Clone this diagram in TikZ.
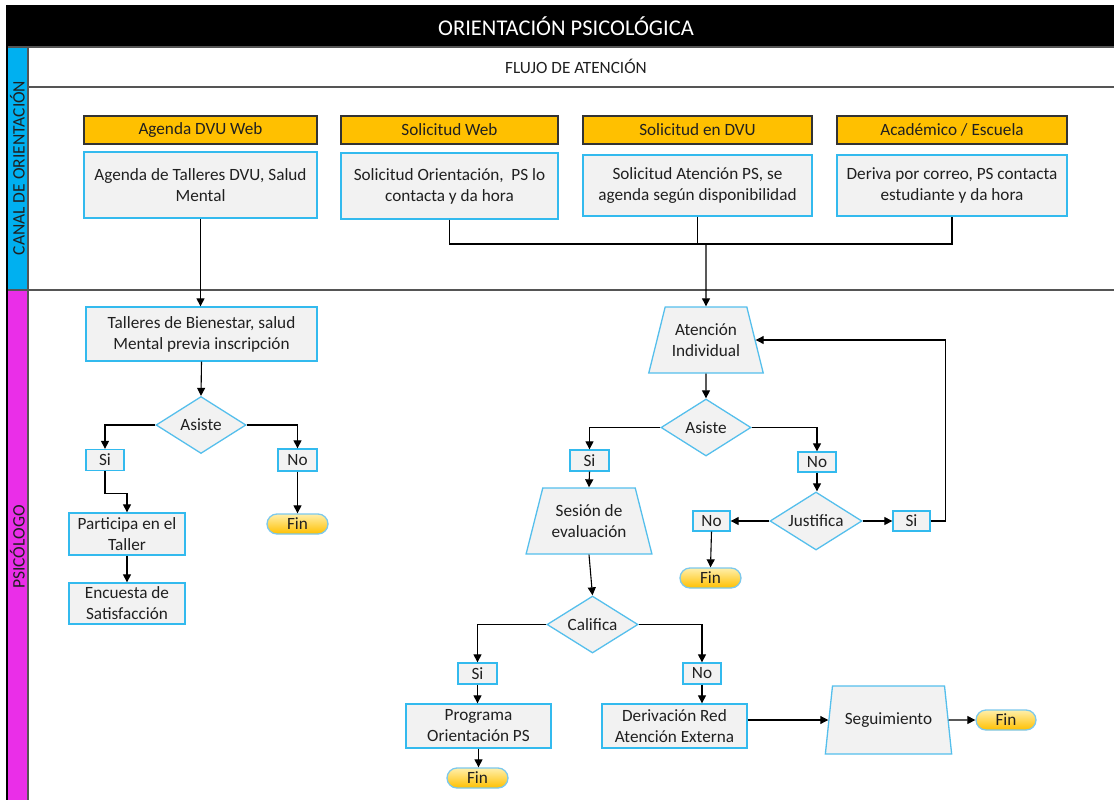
\documentclass[tikz,border=0pt]{standalone}
\usepackage{fontspec}
\setmainfont{Carlito}
\usetikzlibrary{shapes.geometric,arrows.meta,calc}
\definecolor{ybox}{HTML}{FFC000}
\definecolor{gfill}{HTML}{F2F2F2}
\definecolor{bline}{HTML}{33BAEE}
\definecolor{dline}{HTML}{55BFEC}
\definecolor{lblue}{HTML}{00B0F0}
\definecolor{lmag}{HTML}{EA2EE8}
\definecolor{sepg}{HTML}{555555}
\definecolor{txt}{HTML}{202020}
\definecolor{fintop}{HTML}{FFEFAA}
\definecolor{finbot}{HTML}{FFC000}
\definecolor{finb}{HTML}{7CC8EC}
\tikzset{
  hdr/.style={draw=black!80, line width=1.3pt, fill=ybox, inner sep=0pt, text=txt},
  gbox/.style={draw=bline, line width=1.3pt, fill=gfill, inner sep=0pt, align=center, text=txt},
  sbox/.style={draw=bline, line width=1.3pt, fill=gfill, inner sep=0pt, text=txt},
  dia/.style={diamond, aspect=1.6, draw=dline, line width=1.3pt, fill=gfill, inner sep=0pt, text=txt},
  trap/.style={trapezium, trapezium stretches=true, draw=dline, line width=1.3pt, fill=gfill, inner sep=0pt, align=center, text=txt},
  finbox/.style={draw=finb, line width=1.3pt, rounded corners=10pt, top color=fintop, bottom color=finbot, inner sep=0pt, minimum width=61pt, minimum height=20pt, text=txt},
  arr/.style={draw=black, line width=1.1pt, -{Triangle[length=8pt,width=8pt]}},
  lnk/.style={draw=black, line width=1.1pt}
}
\begin{document}
\begin{tikzpicture}[x=1pt,y=-1pt,font=\fontsize{17.2}{21}\selectfont]
\useasboundingbox (0,0) rectangle (1114,800);
% frame
\fill[black] (6,5) rectangle (1114,47);
\fill[lblue] (7,47) rectangle (28,290);
\fill[lmag] (7,290) rectangle (28,800);
\draw[sepg,line width=1.3pt] (28,87) -- (1114,87);
\draw[sepg,line width=1.3pt] (7,290) -- (1114,290);
\draw[sepg,line width=1.3pt] (7,47) -- (1114,47);
\draw[sepg,line width=1.3pt] (28,47) -- (28,800);
\draw[black,line width=1.5pt] (7,5) -- (7,800);
\node[white,font=\fontsize{22.5}{26}\selectfont] (title) at (566,26) {ORIENTACIÓN PSICOLÓGICA};
\node[text=txt] (flujo) at (576,66) {FLUJO DE ATENCIÓN};
\node[rotate=90,text=txt,font=\fontsize{17.5}{20}\selectfont] (lane1) at (17.5,168) {CANAL DE ORIENTACIÓN};
\node[rotate=90,text=txt,font=\fontsize{17.5}{20}\selectfont] (lane2) at (17.5,547) {PSICÓLOGO};
% top headers
\node[hdr,minimum width=233pt,minimum height=28pt] (hA) at (200.5,130) {Agenda DVU Web};
\node[hdr,minimum width=217pt,minimum height=28pt] (hB) at (449.5,130) {Solicitud Web};
\node[hdr,minimum width=229pt,minimum height=28pt] (hC) at (697.5,130) {Solicitud en DVU};
\node[hdr,minimum width=230pt,minimum height=28pt] (hD) at (952,130) {Académico / Escuela};
\node[gbox,minimum width=233pt,minimum height=66pt] (bA) at (200.5,185) {Agenda de Talleres DVU, Salud\\Mental};
\node[gbox,minimum width=217pt,minimum height=66pt] (bB) at (449.5,186) {Solicitud Orientación,\ \ PS lo\\contacta y da hora};
\node[gbox,minimum width=229pt,minimum height=61pt] (bC) at (697.5,185.5) {Solicitud Atención PS, se\\agenda según disponibilidad};
\node[gbox,minimum width=230pt,minimum height=61pt] (bD) at (952,185.5) {Deriva por correo, PS contacta\\estudiante y da hora};
\coordinate (bus) at (706,244);
% left flow
\node[gbox,minimum width=231pt,minimum height=54pt] (tal) at (201.5,334) {Talleres de Bienestar, salud\\Mental previa inscripción};
\node[dia,minimum width=90pt,minimum height=57pt] (as1) at (201,425) {Asiste};
\node[sbox,minimum width=38pt,minimum height=21pt] (si1) at (105,460) {Si};
\node[sbox,minimum width=39pt,minimum height=22pt] (no1) at (297.5,460) {No};
\node[gbox,minimum width=116pt,minimum height=42pt] (par) at (127,534) {Participa en el\\Taller};
\node[gbox,minimum width=116pt,minimum height=41pt] (enc) at (127,603.5) {Encuesta de\\Satisfacción};
\node[finbox] (fin1) at (297.5,524) {Fin};
% right flow
\node[trap,trapezium left angle=67.4,trapezium right angle=67.4,minimum width=115pt,minimum height=66pt] (ati) at (706,340) {Atención\\Individual};
\node[dia,minimum width=90pt,minimum height=57pt] (as2) at (706,427.5) {Asiste};
\node[sbox,minimum width=39pt,minimum height=21pt] (si2) at (589.5,460.5) {Si};
\node[sbox,minimum width=38pt,minimum height=20pt] (no2) at (817,462) {No};
\node[dia,minimum width=92pt,minimum height=58pt] (jus) at (816,521) {Justifica};
\node[sbox,minimum width=37pt,minimum height=20pt] (no3) at (711.5,521) {No};
\node[sbox,minimum width=37pt,minimum height=20pt] (si3) at (911.5,521) {Si};
\node[finbox] (fin2) at (710.5,578) {Fin};
\node[trap,trapezium left angle=67.8,trapezium right angle=67.8,minimum width=126pt,minimum height=66pt] (ses) at (589,521) {Sesión de\\evaluación};
\node[dia,minimum width=91pt,minimum height=57pt] (cal) at (592.5,624.5) {Califica};
\node[sbox,minimum width=39pt,minimum height=21pt] (si4) at (477.5,673.5) {Si};
\node[sbox,minimum width=38pt,minimum height=21pt] (no4) at (702,673.5) {No};
\node[gbox,minimum width=145pt,minimum height=44pt] (pro) at (478.5,726) {Programa\\Orientación PS};
\node[gbox,minimum width=145pt,minimum height=44pt] (der) at (674.5,726) {Derivación Red\\Atención Externa};
\node[finbox] (fin3) at (477.5,778) {Fin};
\node[trap,trapezium left angle=69.4,trapezium right angle=69.4,minimum width=127pt,minimum height=68pt] (seg) at (888.5,720) {Seguimiento};
\node[finbox,minimum width=60pt] (fin4) at (1006,720) {Fin};
% connectors top
\draw[arr] (bA.south) -- (bA.south |- tal.north);
\draw[lnk] (bB.south) |- (bD.south |- bus) -- (bD.south);
\draw[lnk] (bC.south) -- (bC.south |- bus);
\draw[arr] (bus) -- (ati.north);
% connectors left
\draw[arr] (tal.south) -- (as1.north);
\draw[arr] (as1.west) -| (si1.north);
\draw[arr] (as1.east) -| (no1.north);
\draw[arr] (si1.south) -- ++(0,22) -| (par.north);
\draw[arr] (par.south) -- (enc.north);
\draw[arr] (no1.south) -- (fin1.north);
% connectors right
\draw[arr] (ati.south) -- (as2.north);
\draw[arr] (as2.west) -| (si2.north);
\draw[arr] (as2.east) -| (no2.north);
\draw[arr] (no2.south) -- (no2.south |- jus.north);
\draw[arr] (jus.west) -- (no3.east);
\draw[arr] (jus.east) -- (si3.west);
\draw[arr] (no3.south) -- (fin2.north);
\draw[arr] (si3.east) -- ++(15,0) |- (ati.east);
\draw[arr] (si2.south) -- (ses.north);
\draw[arr] (ses.south) -- (cal.north);
\draw[arr] (cal.west) -| (si4.north);
\draw[arr] (cal.east) -| (no4.north);
\draw[arr] (si4.south) -- (si4.south |- pro.north);
\draw[arr] (no4.south) -- (no4.south |- der.north);
\draw[arr] (pro.south) -- (pro.south |- fin3.north);
\draw[arr] (der.east |- seg.west) -- (seg.west);
\draw[arr] (seg.east) -- (fin4.west);
\end{tikzpicture}
\end{document}
